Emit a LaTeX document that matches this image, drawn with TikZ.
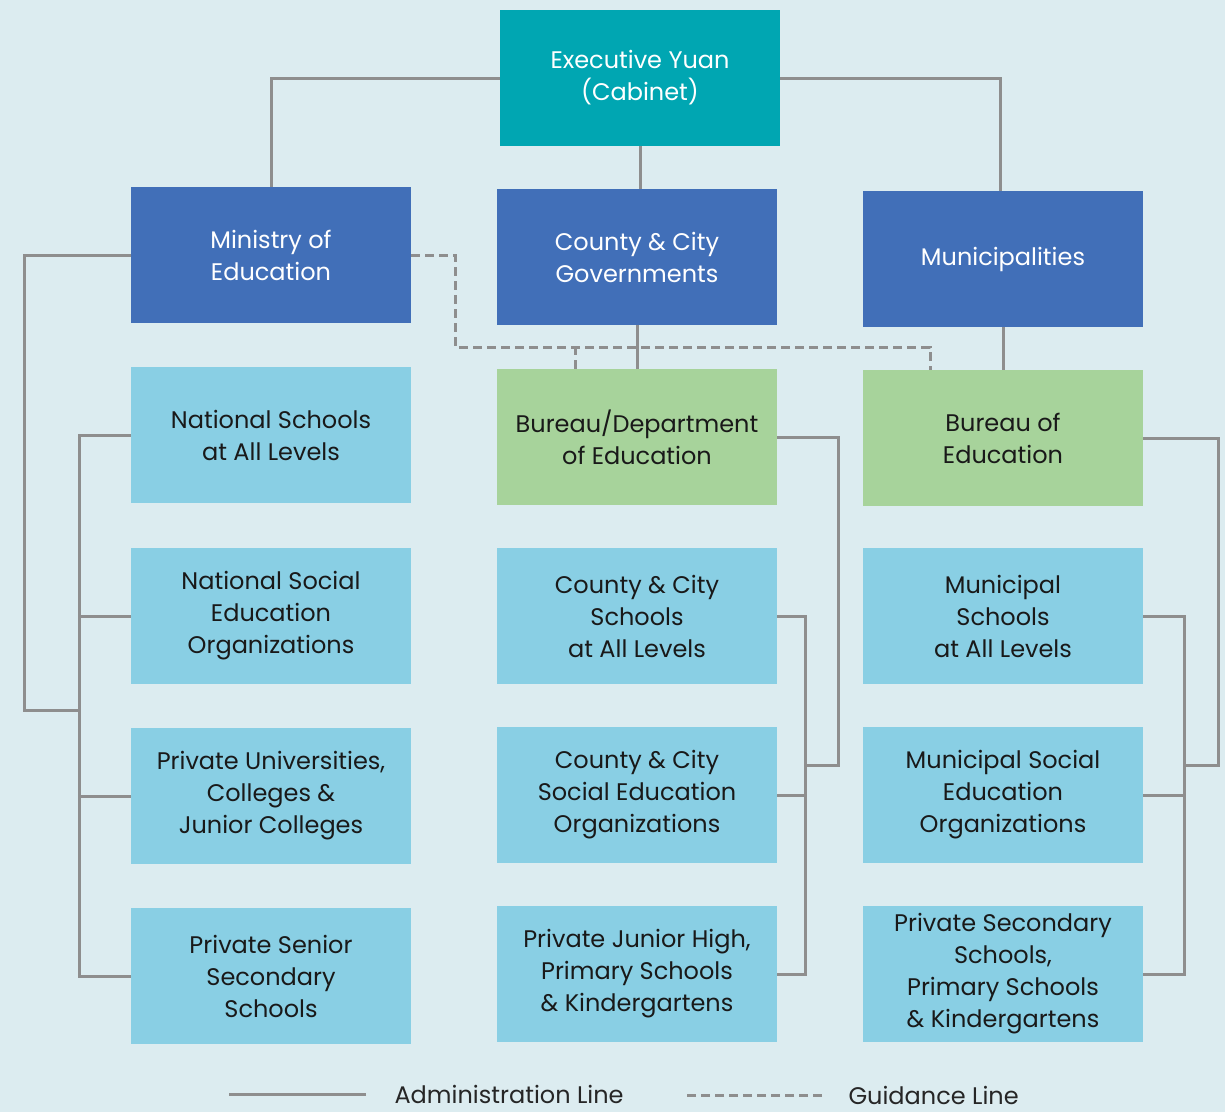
\documentclass[tikz,border=0pt]{standalone}
\usepackage{fontspec}
\setmainfont{Poppins}
\usepackage{tikz}
\usetikzlibrary{calc}
\definecolor{bgcol}{HTML}{DCECF0}
\definecolor{teal}{HTML}{00A6B2}
\definecolor{govblue}{HTML}{416FB8}
\definecolor{schblue}{HTML}{89CFE4}
\definecolor{edugreen}{HTML}{A7D39B}
\definecolor{linegray}{HTML}{8E8E8E}
\tikzset{box/.style={rectangle,minimum width=280,minimum height=136,inner sep=0,align=center,
		font=\fontsize{24}{32}\selectfont},
	topbox/.style={box,fill=teal,text=white},
	govbox/.style={box,fill=govblue,text=white},
	edubox/.style={box,fill=edugreen,text=black!90},
	schbox/.style={box,fill=schblue,text=black!90},
	adm/.style={draw=linegray,line width=3pt},
	guide/.style={draw=linegray,line width=3pt,dash pattern=on 9pt off 5pt}}

\begin{document}
\begin{tikzpicture}[x=1pt,y=-1pt]
		\useasboundingbox (0,0) rectangle (1225,1112);
		\fill[bgcol] (0,0) rectangle (1225,1112);
		% top levels
		\node[topbox] (ey) at (640,78) {Executive Yuan\\(Cabinet)};
		\node[govbox] (moe) at (271,255) {Ministry of\\Education};
		\node[govbox] (ccg) at (637,257) {County \& City\\Governments};
		\node[govbox] (muni) at (1003,259) {Municipalities};
		\node[edubox] (bde) at (637,437) {Bureau/Department\\of Education};
		\node[edubox] (bed) at (1003,438) {Bureau of\\Education};
		% schools and organizations
		\node[schbox] (nsch) at (271,435) {National Schools\\at All Levels};
		\node[schbox] (nsoc) at (271,616) {National Social\\Education\\Organizations};
		\node[schbox] (puni) at (271,796) {Private Universities,\\Colleges \&\\Junior Colleges};
		\node[schbox] (psen) at (271,976) {Private Senior\\Secondary\\Schools};
		\node[schbox] (ccsch) at (637,616) {County \& City\\Schools\\at All Levels};
		\node[schbox] (ccsoc) at (637,795) {County \& City\\Social Education\\Organizations};
		\node[schbox] (pjh) at (637,974) {Private Junior High,\\Primary Schools\\\& Kindergartens};
		\node[schbox] (msch) at (1003,616) {Municipal\\Schools\\at All Levels};
		\node[schbox] (msoc) at (1003,795) {Municipal Social\\Education\\Organizations};
		\node[schbox] (psec) at (1003,974) {Private Secondary\\Schools,\\Primary Schools\\\& Kindergartens};
		% joints
		\coordinate (lbus) at (79,710);
		\coordinate (mbus) at (805,765);
		\coordinate (rbus) at (1184,765);
		\coordinate (gd) at (455,347);
		% administration lines
		\draw[adm] (ey.west) -| (moe.north);
		\draw[adm] (ey.east) -| ([xshift=-3]muni.north);
		\draw[adm] (ey.south) -- (ey.south |- ccg.north);
		\draw[adm] (ccg.south) -- (bde.north);
		\draw[adm] (muni.south) -- (bed.north);
		\draw[adm] (moe.west) -- ++(-106,0) |- (lbus);
		\draw[adm] (nsch.west) -- (nsch.west -| lbus) -- (psen.west -| lbus) -- (psen.west);
		\foreach \n in {nsoc,puni}
			\draw[adm] (\n.west) -- (\n.west -| lbus);
		\draw[adm] (bde.east) -- ++(61,0) |- (mbus);
		\draw[adm] (ccsch.east) -- (ccsch.east -| mbus) -- (pjh.east -| mbus) -- (pjh.east);
		\draw[adm] (ccsoc.east) -- (ccsoc.east -| mbus);
		\draw[adm] (bed.east) -- ++(75,0) |- (rbus);
		\draw[adm] (msch.east) -- (msch.east -| rbus) -- (psec.east -| rbus) -- (psec.east);
		\draw[adm] (msoc.east) -- (msoc.east -| rbus);
		% guidance lines
		\draw[guide] (moe.east) -| (gd) -| ([xshift=-73]bed.north);
		\draw[guide] ([xshift=-62]bde.north) -- ([xshift=-62]bde.north |- gd);
		% legend
		\node[anchor=west,font=\fontsize{24}{26}\selectfont,text=black!85] (admtxt) at (391,1094) {Administration Line};
		\node[anchor=west,font=\fontsize{24}{26}\selectfont,text=black!85] (guitxt) at (845,1095) {Guidance Line};
		\draw[adm] ([xshift=-25]admtxt.west) -- ++(-137,0);
		\draw[guide] ([xshift=-23]guitxt.west) -- ++(-139,0);
	\end{tikzpicture}
\end{document}
